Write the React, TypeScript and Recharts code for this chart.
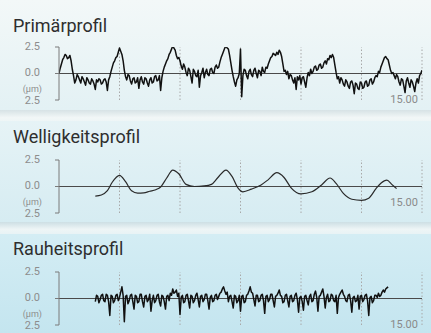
import React from 'react';
import { LineChart, Line, XAxis, YAxis, ReferenceLine } from 'recharts';

// ---- Data ----
const titles = ['Primärprofil', 'Welligkeitsprofil', 'Rauheitsprofil'];
const yTicks = [2.5, 0, -2.5];
const yTickLabels: Record<string, string> = { '2.5': '2.5', '0': '0.0', '-2.5': '2.5' };
const unitLabel = '(µm)';
const endLabel = '15.00';
const gridX = [2.5, 5, 7.5, 10, 12.5, 15];
const xMax = 15;

// Primärprofil sampled every 0.05 from 0 to 15
const primaryStart = 0;
const primaryStep = 0.05;
const primaryValues = [
  0.0, 0.5, 0.9, 1.3, 1.5, 1.8, 1.7, 1.4, 1.5, 1.7,
  1.2, 0.4, -0.2, -0.9, -0.6, -0.1, -0.3, -0.6, -0.9, -0.3,
  -0.5, -0.8, -1.1, -0.4, -0.6, -0.9, -1.0, -0.5, -0.7, -1.0,
  -1.5, -0.6, -0.8, -0.5, -0.6, -1.0, -0.9, -0.6, -0.5, -0.8,
  -1.6, -0.6, -0.3, 0.2, 0.6, 1.0, 1.2, 1.5, 1.6, 2.0,
  2.4, 2.1, 1.8, 1.2, 0.3, -0.3, -0.6, -0.1, -0.2, -0.7,
  -1.0, -0.5, -0.4, -0.9, -0.8, -0.4, -1.4, -0.6, -0.3, -0.8,
  -1.0, -0.4, -0.5, -0.9, -1.2, -0.6, -0.4, -0.9, -0.8, -0.3,
  -0.2, -0.7, -0.6, -0.2, -1.6, -0.4, 0.2, 0.6, 0.9, 1.2,
  1.4, 1.8, 2.0, 2.3, 2.6, 2.4, 2.2, 1.7, 1.4, 1.5,
  1.2, 0.7, 0.4, 0.9, 0.6, 0.1, -0.2, 0.5, 0.3, -0.3,
  -0.9, 0.4, 0.2, -0.2, -0.3, 0.3, -1.3, -0.2, 0.1, 0.5,
  -0.4, 0.1, 0.4, -0.1, -0.2, 0.4, 0.5, 0.1, 0.0, 0.6,
  0.8, 0.5, 0.6, 1.1, 1.5, 1.8, 2.1, 2.4, 2.6, 2.4,
  2.3, 1.7, 1.0, 0.3, -0.3, -0.8, -1.2, -0.6, -0.4, 0.0,
  2.3, -2.2, -0.2, 0.4, 0.3, -0.2, -0.5, 0.2, 0.4, -0.1,
  -0.3, 0.3, 0.5, 0.0, -0.4, 0.3, 0.2, -0.2, 0.6, 0.2,
  0.1, 0.6, 0.5, 0.9, 1.2, 1.5, 1.6, 1.9, 1.8, 1.7,
  2.0, 1.8, 2.2, 2.0, 1.6, 0.9, 0.2, 0.3, -0.1, 0.2,
  -0.5, -0.1, -0.2, -0.6, -0.9, -0.4, -1.5, -0.3, -0.6, -0.2,
  -1.0, -0.4, -0.3, -0.8, -1.3, -0.4, 0.1, -0.2, 0.4, 0.0,
  0.2, 0.6, 0.7, 0.3, 0.4, 0.8, 0.9, 0.5, 0.6, 1.0,
  1.2, 0.9, 1.4, 1.3, 1.7, 1.5, 1.8, 1.5, 0.8, 0.1,
  -0.5, -0.3, -0.9, -0.4, -0.6, -1.0, -1.2, -0.6, -0.8, -1.2,
  -1.4, -0.8, -0.7, -1.1, -1.9, -0.9, -1.0, -1.4, -1.5, -0.8,
  -0.9, -1.4, -1.3, -0.8, -0.7, -1.2, -1.1, -0.6, -0.5, -1.0,
  -0.8, -0.4, -0.2, -0.3, 0.2, 0.1, 0.6, 0.9, 1.2, 1.5,
  1.6, 1.4, 1.3, 0.8, 0.3, 0.0, 0.1, -0.2, -0.5, -0.1,
  -0.3, -0.8, -1.1, -0.5, -0.6, -1.2, -1.8, -0.7, -0.4, -0.9,
  -1.3, -0.6, -0.8, -1.2, -1.7, -0.9, -0.5, -0.9, -0.2, 0.0,
  0.3,
];

// Welligkeitsprofil (smooth) – positions and values
const waveX = [1.5, 1.75, 2.0, 2.2, 2.5, 2.75, 3.0, 3.25, 3.5, 3.75, 4.0, 4.2, 4.45, 4.7, 4.95, 5.25, 5.6, 6.0, 6.3, 6.55, 6.9, 7.15, 7.4, 7.6, 7.95, 8.35, 8.65, 9.0, 9.3, 9.6, 10.0, 10.45, 10.85, 11.2, 11.45, 11.75, 12.1, 12.5, 12.8, 13.1, 13.3, 13.55, 13.75, 13.95];
const waveY = [-0.9, -0.8, -0.4, 0.4, 1.05, 0.45, -0.4, -0.62, -0.6, -0.45, -0.3, -0.05, 0.8, 1.55, 1.2, 0.2, 0.0, 0.05, 0.2, 0.8, 1.55, 0.95, -0.15, -0.5, -0.25, 0.15, 0.65, 1.3, 0.85, -0.15, -0.7, -0.5, 0.15, 0.8, 0.3, -0.65, -1.2, -1.3, -1.1, -0.2, 0.3, 0.6, 0.2, -0.2];

// Rauheitsprofil sampled every 0.05 from 1.5 to 13.6
const roughStart = 1.5;
const roughStep = 0.05;
const roughValues = [
  -0.3, 0.3, 0.2, -0.4, -0.1, 0.3, 0.4, -0.2, -0.3, 0.4,
  0.3, -0.3, -1.6, 0.3, 0.2, -0.4, -0.2, 0.3, 0.4, -0.2,
  0.1, 0.6, 1.1, 0.3, -2.2, 0.2, 0.3, -0.5, -0.2, 0.3,
  0.4, -0.3, -1.0, 0.3, 0.2, -0.4, -0.3, 0.4, 0.4, -0.3,
  -0.8, 0.2, 0.3, -0.3, -0.1, 0.4, -1.2, -0.2, 0.3, -0.4,
  -0.2, 0.3, 0.4, -0.3, -0.7, 0.3, 0.2, -0.3, -1.0, 0.2,
  0.3, -0.2, 0.5, 0.3, 0.9, 0.5, 0.6, 0.8, 0.2, 0.5,
  -1.5, 0.1, 0.3, -0.4, -0.3, 0.3, 0.4, -0.2, -0.9, 0.3,
  0.2, -0.4, -0.2, 0.3, 0.5, -0.1, -0.8, 0.2, 0.3, -0.3,
  -0.1, 0.4, 0.4, -0.2, -1.0, 0.1, 0.3, -0.3, -0.2, 0.3,
  0.4, -0.1, 0.2, 0.5, 0.6, 0.9, 1.1, 0.7, 0.4, 0.6,
  -0.3, 0.2, 0.3, -0.3, -0.9, 0.3, 0.2, -0.4, -0.2, 0.3,
  -1.2, 0.2, 0.3, -0.4, -0.3, 0.3, 0.4, 0.7, 1.1, 0.6,
  0.5, -0.1, -0.7, 0.3, 0.3, -0.3, -0.2, 0.3, 0.4, -0.2,
  -1.4, 0.2, 0.3, -0.3, -0.1, 0.4, 0.4, -0.2, -0.8, 0.2,
  0.3, 0.5, 0.8, 0.3, 0.2, -0.4, -0.3, 0.3, 0.4, -0.2,
  -0.8, 0.2, 0.3, -0.3, -0.2, 0.3, 0.5, -0.1, -1.3, 0.1,
  0.2, -0.3, -1.1, 0.2, 0.3, -0.2, -0.6, 0.2, 0.4, -0.3,
  -0.2, 0.4, 0.7, 0.1, -1.2, 0.2, 0.3, 0.6, 0.9, 0.2,
  -0.9, 0.1, 0.4, -0.3, -0.2, 0.4, 0.3, -0.2, -0.3, 0.3,
  -1.4, 0.1, 0.4, 0.6, 0.8, 0.4, 0.2, -0.2, -0.3, 0.3,
  0.4, -0.2, -1.3, 0.1, 0.2, -0.3, -0.2, 0.3, -1.0, 0.2,
  0.3, -0.3, -0.1, 0.3, 0.4, -0.2, -1.6, 0.1, 0.2, -0.4,
  -0.2, 0.3, 0.3, 0.1, 0.5, 0.2, 0.3, 0.6, 0.8, 0.6,
  0.9, 1.0, 1.1,
];

const sampled = (start: number, step: number, vals: number[]) =>
  vals.map((v, i) => ({ x: Math.round((start + i * step) * 1000) / 1000, y: v }));

const primaryData = sampled(primaryStart, primaryStep, primaryValues);
const waveData = waveX.map((x, i) => ({ x, y: waveY[i] }));
const roughData = sampled(roughStart, roughStep, roughValues);

// ---- Layout ----
const W = 431;
const CH = 73;
const MT = 10;

const AxisTick = (props: any) => {
  const { y, payload } = props;
  const key = String(payload.value);
  const label = yTickLabels[key] ?? key;
  const isBottom = payload.value === -2.5;
  return (
    <g>
      {isBottom && (
        <text x={42} y={y - 8} textAnchor="end" fontSize={9} fill="#8d8d8d" fontFamily="Roboto, sans-serif">
          {unitLabel}
        </text>
      )}
      <text x={40} y={y + (isBottom ? 4 : 2.5)} textAnchor="end" fontSize={11} fill="#8d8d8d" fontFamily="Roboto, sans-serif">
        {label}
      </text>
    </g>
  );
};

type PanelProps = {
  data: { x: number; y: number }[];
  top: number;
  curve: 'linear' | 'monotone';
  width: number;
  color: string;
};

const Panel = ({ data, top, curve, width, color }: PanelProps) => (
  <div style={{ position: 'absolute', left: 0, top, width: W, height: CH }}>
    <LineChart width={W} height={CH} data={data} margin={{ top: MT, right: 9, bottom: MT, left: 0 }}>
      <XAxis type="number" dataKey="x" domain={[0, xMax]} hide allowDataOverflow />
      <YAxis
        type="number"
        domain={[-2.5, 2.5]}
        ticks={yTicks}
        width={59}
        tickSize={4}
        interval={0}
        axisLine={{ stroke: '#7a7a7a', strokeWidth: 1 }}
        tickLine={{ stroke: '#7a7a7a', strokeWidth: 1 }}
        tick={<AxisTick />}
        allowDataOverflow
      />
      {gridX.map((gx) => (
        <ReferenceLine key={gx} x={gx} stroke="#a8a8a8" strokeDasharray="1.5 2" strokeWidth={1} />
      ))}
      <ReferenceLine y={0} stroke="#4a4a4a" strokeWidth={1} />
      <Line
        type={curve}
        dataKey="y"
        stroke={color}
        strokeWidth={width}
        strokeLinejoin="round"
        dot={false}
        isAnimationActive={false}
      />
    </LineChart>
  </div>
);

const titleStyle: React.CSSProperties = {
  position: 'absolute',
  left: 13,
  fontSize: 18,
  lineHeight: '18px',
  color: '#2e2e2e',
  fontFamily: 'Roboto, sans-serif',
  whiteSpace: 'nowrap',
};

const endStyle: React.CSSProperties = {
  position: 'absolute',
  right: 13,
  fontSize: 11,
  lineHeight: '11px',
  color: '#8a8a8a',
  fontFamily: 'Roboto, sans-serif',
};

export default function App() {
  return (
    <div style={{ position: 'fixed', left: 0, top: 0, width: W, height: 333, overflow: 'hidden', background: '#e4f1f5' }}>
      <div style={{ position: 'absolute', left: 0, top: 0, width: W, height: 110, background: 'linear-gradient(180deg, #f3f8f8 0%, #e3f1f4 100%)' }} />
      <div style={{ position: 'absolute', left: 0, top: 110, width: W, height: 11, background: 'linear-gradient(180deg, #d7e2e5 0%, #f2f7f7 70%, #eef5f6 100%)' }} />
      <div style={{ position: 'absolute', left: 0, top: 121, width: W, height: 101, background: 'linear-gradient(180deg, #e6f3f6 0%, #d6ecf2 100%)' }} />
      <div style={{ position: 'absolute', left: 0, top: 222, width: W, height: 12, background: 'linear-gradient(180deg, #cddfe4 0%, #eef5f6 60%, #e8f3f5 100%)' }} />
      <div style={{ position: 'absolute', left: 0, top: 234, width: W, height: 99, background: 'linear-gradient(180deg, #d4edf4 0%, #c4e5ef 100%)' }} />

      <div style={{ ...titleStyle, top: 17 }}>{titles[0]}</div>
      <div style={{ ...titleStyle, top: 128 }}>{titles[1]}</div>
      <div style={{ ...titleStyle, top: 240 }}>{titles[2]}</div>

      <Panel data={primaryData} top={36.5} curve="linear" width={1.5} color="#111111" />
      <Panel data={waveData} top={149.5} curve="monotone" width={1.2} color="#2a2a2a" />
      <Panel data={roughData} top={262} curve="linear" width={1.5} color="#111111" />

      <div style={{ ...endStyle, top: 94 }}>{endLabel}</div>
      <div style={{ ...endStyle, top: 197 }}>{endLabel}</div>
      <div style={{ ...endStyle, top: 319 }}>{endLabel}</div>
    </div>
  );
}
